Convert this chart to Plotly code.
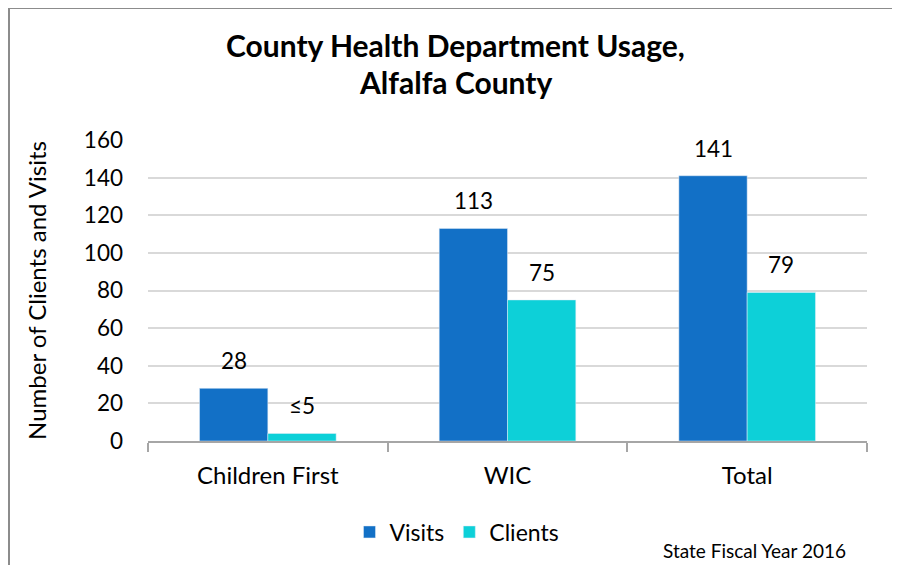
import plotly.graph_objects as go

categories = ["Children First", "WIC", "Total"]
visits = [28, 113, 141]
clients = [4, 75, 79]
visits_labels = ["28", "113", "141"]
clients_labels = ["≤5", "75", "79"]
y_ticks = [0, 20, 40, 60, 80, 100, 120, 140, 160]

FONT = "Lato, 'Open Sans', sans-serif"
OFF = 8  # default page body margin
W, H = 900 - OFF, 565 - OFF
L, R, T, B = 148 - OFF, 33, 140 - OFF, 124
pw, ph = W - L - R, H - T - B


def px_x(x):
    return (x - OFF - L) / pw


def px_y(y):
    return (H - B - (y - OFF)) / ph


fig = go.Figure()
fig.add_trace(go.Bar(x=categories, y=visits, name="Visits", marker_color="#1270C6"))
fig.add_trace(go.Bar(x=categories, y=clients, name="Clients", marker_color="#0DD0D8"))

label_annotations = []
for cat, v, t in zip(categories, visits, visits_labels):
    label_annotations.append(dict(x=cat, y=v, xref="x", yref="y", text=t, showarrow=False,
                                  xshift=-34, yshift=12, yanchor="bottom", xanchor="center",
                                  font=dict(size=22.5, family=FONT, color="#000000")))
for cat, v, t in zip(categories, clients, clients_labels):
    label_annotations.append(dict(x=cat, y=v, xref="x", yref="y", text=t, showarrow=False,
                                  xshift=34, yshift=12, yanchor="bottom", xanchor="center",
                                  font=dict(size=22.5, family=FONT, color="#000000")))

fig.update_layout(
    width=W, height=H,
    margin=dict(l=L, r=R, t=T, b=B, pad=0),
    paper_bgcolor="white", plot_bgcolor="white",
    barmode="group", bargap=0.43, bargroupgap=0,
    font=dict(family=FONT, size=22, color="#000000"),
    showlegend=True,
    legend=dict(orientation="h", x=px_x(457), y=px_y(532), xanchor="center", yanchor="middle",
                font=dict(size=23, family=FONT), itemwidth=30, traceorder="normal"),
    xaxis=dict(
        type="category", showline=True, linecolor="#A6A6A6", linewidth=2,
        ticks="outside", tickson="boundaries", ticklen=9, tickcolor="#A6A6A6", tickwidth=2,
        tickfont=dict(size=24, family=FONT), showgrid=False, ticklabelstandoff=12,
    ),
    yaxis=dict(
        range=[0, 160], tickvals=y_ticks, showgrid=True, gridcolor="#D9D9D9", gridwidth=2,
        zeroline=False, showline=False, tickfont=dict(size=22.5, family=FONT),
        ticks="", ticklabelstandoff=24,
        title=dict(text="Number of Clients and Visits", font=dict(size=24, family=FONT), standoff=30),
    ),
    annotations=label_annotations + [
        dict(text="<b>County Health Department Usage,</b>", x=px_x(455), y=px_y(45),
             xref="paper", yref="paper", showarrow=False, xanchor="center", yanchor="middle",
             font=dict(size=30, family=FONT, color="#000000")),
        dict(text="<b>Alfalfa County</b>", x=px_x(455), y=px_y(82),
             xref="paper", yref="paper", showarrow=False, xanchor="center", yanchor="middle",
             font=dict(size=30, family=FONT, color="#000000")),
        dict(text="State Fiscal Year 2016", x=px_x(848), y=px_y(550),
             xref="paper", yref="paper", showarrow=False, xanchor="right", yanchor="middle",
             font=dict(size=19, family=FONT, color="#000000")),
    ],
    shapes=[
        dict(type="rect", xref="paper", yref="paper",
             x0=px_x(9), x1=px_x(897), y0=px_y(620), y1=px_y(8),
             line=dict(color="#8C8C8C", width=2), fillcolor="rgba(0,0,0,0)", layer="below"),
    ],
)

fig.write_html("out.html")
